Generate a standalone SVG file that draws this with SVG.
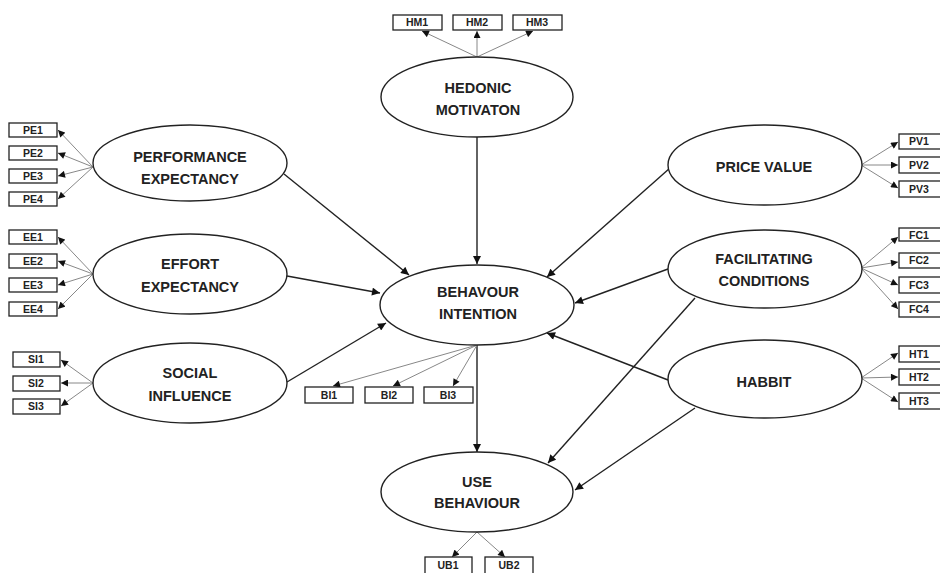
<svg xmlns="http://www.w3.org/2000/svg" width="940" height="573" viewBox="0 0 940 573">
<style>
.el{fill:#fff;stroke:#222;stroke-width:1.4}
.bx{fill:#fff;stroke:#222;stroke-width:1.3}
.lt{font-family:"Liberation Sans",Arial,sans-serif;font-weight:bold;font-size:14.5px;fill:#222;text-anchor:middle}
.it{font-family:"Liberation Sans",Arial,sans-serif;font-weight:bold;font-size:10.5px;fill:#222;text-anchor:middle}
.st{stroke:#222;stroke-width:1.4;fill:none;marker-end:url(#ah)}
.ind{stroke:#888;stroke-width:1;fill:none;marker-end:url(#ai)}
</style>
<defs>
<marker id="ah" viewBox="0 0 10 10" refX="10" refY="5" markerWidth="10" markerHeight="8" orient="auto" markerUnits="userSpaceOnUse"><path d="M0,0 L10,5 L0,10 z" fill="#111"/></marker>
<marker id="ai" viewBox="0 0 10 10" refX="10" refY="5" markerWidth="8" markerHeight="7" orient="auto" markerUnits="userSpaceOnUse"><path d="M0,0 L10,5 L0,10 z" fill="#111"/></marker>
</defs>
<rect width="940" height="573" fill="#fff"/>

<g id="connectors">
<!-- structural paths -->
<path class="st" d="M477,137 L477,264"/>
<path class="st" d="M284,174 L409,275"/>
<path class="st" d="M287,276 L380,293"/>
<path class="st" d="M287,382 L386,323"/>
<path class="st" d="M670,168 L547,277"/>
<path class="st" d="M668,269 L575,303"/>
<path class="st" d="M668,380 L547,333"/>
<path class="st" d="M695,298 L548,463"/>
<path class="st" d="M695,408 L575,490"/>
<path class="st" d="M477,345 L477,452"/>
<!-- indicators -->
<path class="ind" d="M93,167 L58,130"/>
<path class="ind" d="M93,167 L58,153"/>
<path class="ind" d="M93,167 L58,176"/>
<path class="ind" d="M93,167 L58,199"/>
<path class="ind" d="M93,274 L58,237"/>
<path class="ind" d="M93,274 L58,261"/>
<path class="ind" d="M93,274 L58,285"/>
<path class="ind" d="M93,274 L58,309"/>
<path class="ind" d="M93,383 L61,360"/>
<path class="ind" d="M93,383 L61,383"/>
<path class="ind" d="M93,383 L61,406"/>
<path class="ind" d="M477,345 L333,386"/>
<path class="ind" d="M477,345 L393,386"/>
<path class="ind" d="M477,345 L453,386"/>
<path class="ind" d="M477,57 L422,31"/>
<path class="ind" d="M477,57 L477,31"/>
<path class="ind" d="M477,57 L533,31"/>
<path class="ind" d="M861,165 L898,142"/>
<path class="ind" d="M861,165 L898,165"/>
<path class="ind" d="M861,165 L898,188"/>
<path class="ind" d="M861,268 L898,237"/>
<path class="ind" d="M861,268 L898,262"/>
<path class="ind" d="M861,268 L898,285"/>
<path class="ind" d="M861,268 L898,309"/>
<path class="ind" d="M861,378 L898,353"/>
<path class="ind" d="M861,378 L898,377"/>
<path class="ind" d="M861,378 L898,402"/>
<path class="ind" d="M477,532 L452,557"/>
<path class="ind" d="M477,532 L505,557"/>
</g>

<g id="hm">
<ellipse class="el" cx="477" cy="97" rx="96" ry="40"/>
<text class="lt" x="478" y="93">HEDONIC</text>
<text class="lt" x="478" y="115">MOTIVATON</text>
</g>
<g id="pe">
<ellipse class="el" cx="190" cy="163" rx="97" ry="38"/>
<text class="lt" x="190" y="162">PERFORMANCE</text>
<text class="lt" x="190" y="184">EXPECTANCY</text>
</g>
<g id="ee">
<ellipse class="el" cx="190" cy="274" rx="97" ry="40"/>
<text class="lt" x="190" y="269">EFFORT</text>
<text class="lt" x="190" y="292">EXPECTANCY</text>
</g>
<g id="si">
<ellipse class="el" cx="190" cy="383" rx="97" ry="40"/>
<text class="lt" x="190" y="378">SOCIAL</text>
<text class="lt" x="190" y="401">INFLUENCE</text>
</g>
<g id="bi">
<ellipse class="el" cx="477" cy="305" rx="97" ry="40"/>
<text class="lt" x="478" y="297">BEHAVOUR</text>
<text class="lt" x="478" y="319">INTENTION</text>
</g>
<g id="pv">
<ellipse class="el" cx="765" cy="165" rx="97" ry="40"/>
<text class="lt" x="764" y="172">PRICE VALUE</text>
</g>
<g id="fc">
<ellipse class="el" cx="765" cy="269" rx="97" ry="39"/>
<text class="lt" x="764" y="264">FACILITATING</text>
<text class="lt" x="764" y="286">CONDITIONS</text>
</g>
<g id="hb">
<ellipse class="el" cx="765" cy="379" rx="97" ry="39"/>
<text class="lt" x="764" y="387">HABBIT</text>
</g>
<g id="ub">
<ellipse class="el" cx="477" cy="492" rx="96" ry="40"/>
<text class="lt" x="477" y="487">USE</text>
<text class="lt" x="477" y="508">BEHAVIOUR</text>
</g>

<g id="pe1"><rect class="bx" x="9" y="123" width="48" height="14"/><text class="it" x="33" y="134">PE1</text></g>
<g id="pe2"><rect class="bx" x="9" y="146" width="48" height="14"/><text class="it" x="33" y="157">PE2</text></g>
<g id="pe3"><rect class="bx" x="9" y="169" width="48" height="14"/><text class="it" x="33" y="180">PE3</text></g>
<g id="pe4"><rect class="bx" x="9" y="192" width="48" height="14"/><text class="it" x="33" y="203">PE4</text></g>
<g id="ee1"><rect class="bx" x="9" y="230" width="48" height="14"/><text class="it" x="33" y="241">EE1</text></g>
<g id="ee2"><rect class="bx" x="9" y="254" width="48" height="14"/><text class="it" x="33" y="265">EE2</text></g>
<g id="ee3"><rect class="bx" x="9" y="278" width="48" height="14"/><text class="it" x="33" y="289">EE3</text></g>
<g id="ee4"><rect class="bx" x="9" y="302" width="48" height="14"/><text class="it" x="33" y="313">EE4</text></g>
<g id="si1"><rect class="bx" x="13" y="352" width="47" height="15"/><text class="it" x="36" y="363">SI1</text></g>
<g id="si2"><rect class="bx" x="13" y="376" width="47" height="15"/><text class="it" x="36" y="387">SI2</text></g>
<g id="si3"><rect class="bx" x="13" y="399" width="47" height="15"/><text class="it" x="36" y="410">SI3</text></g>
<g id="bi1"><rect class="bx" x="305" y="387" width="48" height="16"/><text class="it" x="329" y="399">BI1</text></g>
<g id="bi2"><rect class="bx" x="365" y="387" width="48" height="16"/><text class="it" x="389" y="399">BI2</text></g>
<g id="bi3"><rect class="bx" x="424" y="387" width="49" height="16"/><text class="it" x="448" y="399">BI3</text></g>
<g id="hm1"><rect class="bx" x="393" y="15" width="49" height="15"/><text class="it" x="417" y="26">HM1</text></g>
<g id="hm2"><rect class="bx" x="453" y="15" width="49" height="15"/><text class="it" x="477" y="26">HM2</text></g>
<g id="hm3"><rect class="bx" x="513" y="15" width="49" height="15"/><text class="it" x="537" y="26">HM3</text></g>
<g id="pv1"><rect class="bx" x="899" y="134" width="46" height="15"/><text class="it" x="919" y="145">PV1</text></g>
<g id="pv2"><rect class="bx" x="899" y="157" width="46" height="16"/><text class="it" x="919" y="169">PV2</text></g>
<g id="pv3"><rect class="bx" x="899" y="181" width="46" height="16"/><text class="it" x="919" y="193">PV3</text></g>
<g id="fc1"><rect class="bx" x="899" y="228" width="46" height="13"/><text class="it" x="919" y="239">FC1</text></g>
<g id="fc2"><rect class="bx" x="899" y="253" width="46" height="15"/><text class="it" x="919" y="264">FC2</text></g>
<g id="fc3"><rect class="bx" x="899" y="277" width="46" height="16"/><text class="it" x="919" y="289">FC3</text></g>
<g id="fc4"><rect class="bx" x="899" y="302" width="46" height="15"/><text class="it" x="919" y="313">FC4</text></g>
<g id="ht1"><rect class="bx" x="899" y="346" width="46" height="16"/><text class="it" x="919" y="358">HT1</text></g>
<g id="ht2"><rect class="bx" x="899" y="369" width="46" height="16"/><text class="it" x="919" y="381">HT2</text></g>
<g id="ht3"><rect class="bx" x="899" y="393" width="46" height="16"/><text class="it" x="919" y="405">HT3</text></g>
<g id="ub1"><rect class="bx" x="425" y="557" width="47" height="20"/><text class="it" x="448" y="569">UB1</text></g>
<g id="ub2"><rect class="bx" x="485" y="557" width="48" height="20"/><text class="it" x="509" y="569">UB2</text></g>
</svg>
